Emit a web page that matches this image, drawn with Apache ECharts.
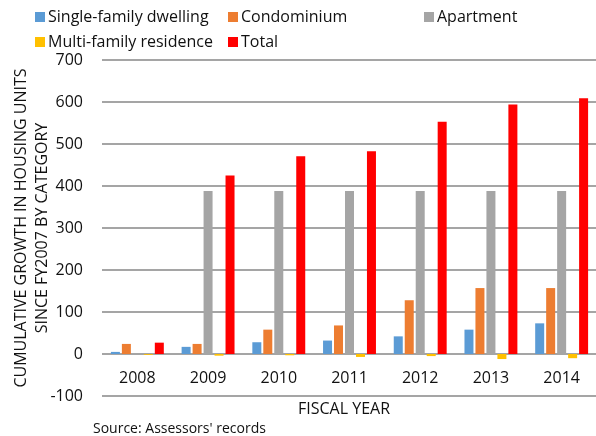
<!DOCTYPE html>
<html>
<head>
<meta charset="utf-8">
<script src="https://cdn.jsdelivr.net/npm/echarts@6/dist/echarts.min.js"></script>
<style>
  html, body { margin: 0; padding: 0; background: #fff; }
  #main { width: 596px; height: 436px; }
</style>
</head>
<body>
<div id="main"></div>
<script>
var years = ['2008', '2009', '2010', '2011', '2012', '2013', '2014'];
var singleFamily = [5, 17, 28, 32, 42, 58, 73];
var condominium = [24, 24, 58, 68, 128, 157, 157];
var apartment = [0, 388, 388, 388, 388, 388, 388];
var multiFamily = [-2, -4, -3, -7, -5, -12, -10];
var total = [27, 425, 471, 483, 553, 594, 609];
var yTicks = [-100, 0, 100, 200, 300, 400, 500, 600, 700];

var font = 'Open Sans';
var ink = '#111';
var chart = echarts.init(document.getElementById('main'));

// one legend per item so they sit in the same spots as the original
function legendAt(name, left, top) {
  return {
    data: [name],
    left: left,
    top: top,
    icon: 'rect',
    itemWidth: 10,
    itemHeight: 10,
    padding: 0,
    textStyle: { fontFamily: font, fontSize: 16, color: ink, padding: [0, 0, 0, -2] }
  };
}

function bar(name, data, color) {
  return {
    name: name,
    type: 'bar',
    data: data,
    barWidth: 9,
    barGap: '22%',
    itemStyle: { color: color }
  };
}

chart.setOption({
  animation: false,
  legend: [
    legendAt('Single-family dwelling', 35, 9),
    legendAt('Condominium', 228, 9),
    legendAt('Apartment', 424, 9),
    legendAt('Multi-family residence', 35, 34),
    legendAt('Total', 228, 34)
  ],
  grid: { left: 102, right: -1, top: 60, bottom: 40, outerBoundsMode: 'none', containLabel: false },
  xAxis: {
    type: 'category',
    data: years,
    axisTick: { show: false },
    // the zero line comes from the y split lines; labels sit just under it
    axisLine: { show: false },
    axisLabel: { fontFamily: font, fontSize: 16, color: ink, margin: -26 }
  },
  yAxis: {
    type: 'value',
    min: yTicks[0],
    max: yTicks[yTicks.length - 1],
    interval: 100,
    axisLine: { show: false },
    axisTick: { show: false },
    splitLine: { lineStyle: { color: '#878787', width: 1.5 } },
    axisLabel: { fontFamily: font, fontSize: 16, color: ink, margin: 19 },
    name: 'CUMULATIVE GROWTH IN HOUSING UNITS\nSINCE FY2007 BY CATEGORY',
    nameLocation: 'middle',
    nameGap: 49,
    nameMoveOverlap: false,
    nameTextStyle: { fontFamily: font, fontSize: 16, color: ink, lineHeight: 21, align: 'center' }
  },
  graphic: [{
    type: 'text',
    left: 298,
    top: 401,
    style: { text: 'FISCAL YEAR', font: '16px "Open Sans"', fill: ink }
  }, {
    type: 'text',
    left: 93,
    top: 422,
    style: { text: "Source: Assessors' records", font: '14px "Open Sans"', fill: ink }
  }],
  series: [
    bar('Single-family dwelling', singleFamily, '#5b9bd5'),
    bar('Condominium', condominium, '#ed7d31'),
    bar('Apartment', apartment, '#a5a5a5'),
    bar('Multi-family residence', multiFamily, '#ffc000'),
    bar('Total', total, '#ff0000')
  ]
});
</script>
</body>
</html>
